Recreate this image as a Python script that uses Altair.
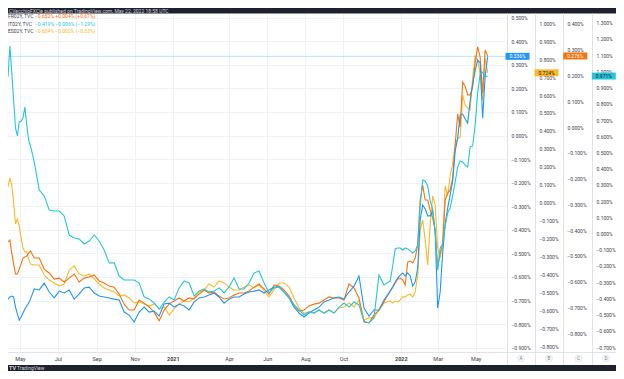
import altair as alt
import pandas as pd

# ---------------- data ----------------
DATES = (list(pd.date_range("2020-04-12", periods=13, freq="3D"))
         + list(pd.date_range("2020-05-24", periods=71, freq="8D"))
         + list(pd.date_range("2021-12-15", periods=40, freq="4D")))

# blue, scale A
DE02Y = [-0.694, -0.685, -0.681, -0.685, -0.728, -0.757, -0.783, -0.770, -0.753, -0.736, -0.723, -0.711, -0.694,
         -0.651, -0.655, -0.626, -0.664, -0.689, -0.660, -0.668, -0.655, -0.694, -0.672, -0.647, -0.643, -0.668,
         -0.681, -0.685, -0.689, -0.694, -0.698, -0.749, -0.762, -0.791, -0.749, -0.728, -0.749, -0.745, -0.766,
         -0.715, -0.711, -0.728, -0.715, -0.723, -0.740, -0.706, -0.689, -0.685, -0.677, -0.668, -0.685, -0.711,
         -0.694, -0.685, -0.685, -0.672, -0.664, -0.660, -0.655, -0.668, -0.655, -0.643, -0.643, -0.664, -0.689,
         -0.728, -0.753, -0.770, -0.753, -0.740, -0.728, -0.706, -0.698, -0.689, -0.685, -0.694, -0.664, -0.639,
         -0.596, -0.732, -0.766, -0.740, -0.740, -0.698,
         -0.660, -0.643, -0.621, -0.605, -0.592, -0.583, -0.596, -0.583, -0.596, -0.639, -0.621, -0.562, -0.358,
         -0.295, -0.312, -0.341, -0.341, -0.320, -0.409, -0.732, -0.664, -0.498, -0.375, -0.308, -0.252, -0.193,
         -0.066, -0.011, 0.087, 0.091, 0.070, 0.053, 0.147, 0.219, 0.274, 0.321, 0.308, 0.074, 0.250, 0.336]

# yellow, scale B
ES02Y = [0.087, 0.137, 0.098, 0.003, -0.119, -0.091, -0.130, -0.197, -0.253, -0.275, -0.275, -0.314, -0.342,
         -0.348, -0.348, -0.404, -0.432, -0.448, -0.465, -0.454, -0.376, -0.353, -0.398, -0.409, -0.398, -0.426,
         -0.454, -0.476, -0.487, -0.498, -0.521, -0.515, -0.532, -0.560, -0.554, -0.565, -0.577, -0.565, -0.593,
         -0.582, -0.627, -0.593, -0.565, -0.549, -0.554, -0.532, -0.498, -0.487, -0.454, -0.471, -0.437, -0.448,
         -0.471, -0.487, -0.487, -0.471, -0.459, -0.476, -0.459, -0.493, -0.526, -0.487, -0.448, -0.448, -0.471,
         -0.532, -0.588, -0.616, -0.610, -0.616, -0.599, -0.616, -0.599, -0.616, -0.588, -0.582, -0.560, -0.582,
         -0.543, -0.655, -0.643, -0.643, -0.599, -0.560,
         -0.549, -0.560, -0.549, -0.554, -0.543, -0.526, -0.526, -0.515, -0.510, -0.526, -0.498, -0.409, -0.153,
         -0.097, -0.208, -0.348, -0.125, 0.037, -0.013, -0.253, -0.309, -0.225, 0.093, 0.037, 0.154, 0.215,
         0.321, 0.355, 0.366, 0.600, 0.544, 0.528, 0.517, 0.695, 0.818, 0.795, 0.712, 0.572, 0.806, 0.724]

# orange, scale C
FR02Y = [-0.446, -0.438, -0.489, -0.531, -0.570, -0.570, -0.551, -0.531, -0.508, -0.504, -0.500, -0.489, -0.481,
         -0.508, -0.508, -0.551, -0.566, -0.590, -0.586, -0.601, -0.586, -0.570, -0.601, -0.586, -0.582, -0.574,
         -0.597, -0.605, -0.617, -0.621, -0.648, -0.687, -0.710, -0.710, -0.671, -0.683, -0.698, -0.718, -0.752,
         -0.710, -0.687, -0.675, -0.663, -0.675, -0.663, -0.667, -0.648, -0.632, -0.644, -0.640, -0.655, -0.667,
         -0.663, -0.652, -0.644, -0.644, -0.636, -0.621, -0.609, -0.628, -0.648, -0.613, -0.617, -0.632, -0.655,
         -0.690, -0.714, -0.710, -0.694, -0.687, -0.683, -0.671, -0.659, -0.663, -0.663, -0.671, -0.609, -0.624,
         -0.663, -0.756, -0.760, -0.729, -0.710, -0.679,
         -0.636, -0.621, -0.605, -0.590, -0.586, -0.593, -0.613, -0.524, -0.520, -0.527, -0.508, -0.458, -0.283,
         -0.225, -0.283, -0.283, -0.322, -0.353, -0.399, -0.547, -0.489, -0.454, -0.283, -0.256, -0.244, -0.198,
         -0.069, 0.051, 0.000, 0.175, 0.159, 0.125, 0.125, 0.155, 0.249, 0.311, 0.272, 0.132, 0.299, 0.276]

# cyan, scale D
IT02Y = [0.965, 1.156, 0.996, 0.823, 0.651, 0.602, 0.688, 0.694, 0.713, 0.780, 0.669, 0.577, 0.540,
         0.441, 0.269, 0.232, 0.145, 0.139, 0.139, 0.108, -0.009, -0.027, -0.034, -0.064, -0.046, -0.009,
         -0.046, -0.101, -0.181, -0.181, -0.262, -0.286, -0.286, -0.286, -0.305, -0.391, -0.403, -0.428, -0.465,
         -0.422, -0.391, -0.409, -0.335, -0.292, -0.305, -0.385, -0.354, -0.342, -0.360, -0.354, -0.335, -0.366,
         -0.329, -0.274, -0.342, -0.342, -0.305, -0.243, -0.231, -0.305, -0.366, -0.335, -0.329, -0.360, -0.397,
         -0.440, -0.471, -0.502, -0.483, -0.490, -0.471, -0.490, -0.471, -0.490, -0.453, -0.428, -0.453, -0.422,
         -0.440, -0.539, -0.551, -0.520, -0.255, -0.317,
         -0.292, -0.200, -0.095, -0.089, -0.089, -0.101, -0.089, -0.095, -0.107, -0.120, -0.107, -0.070, 0.176,
         0.330, 0.324, 0.293, 0.201, 0.151, 0.010, -0.225, -0.089, -0.064, 0.047, 0.127, 0.158, 0.232,
         0.318, 0.410, 0.447, 0.441, 0.423, 0.410, 0.534, 0.540, 0.669, 0.867, 0.984, 0.996, 0.965, 0.971]

A_TICKS = [-0.9, -0.8, -0.7, -0.6, -0.5, -0.4, -0.3, -0.2, -0.1, 0.0, 0.1, 0.2, 0.3, 0.4, 0.5]
B_TICKS = [-0.8, -0.7, -0.6, -0.5, -0.4, -0.3, -0.2, -0.1, 0.0, 0.1, 0.2, 0.3, 0.4, 0.5, 0.6, 0.7, 0.8, 0.9, 1.0]
C_TICKS = [-0.8, -0.7, -0.6, -0.5, -0.4, -0.3, -0.2, -0.1, 0.0, 0.1, 0.2, 0.3, 0.4]
D_TICKS = [-0.7, -0.6, -0.5, -0.4, -0.3, -0.2, -0.1, 0.0, 0.1, 0.2, 0.3, 0.4, 0.5, 0.6, 0.7, 0.8, 0.9, 1.0,
           1.1, 1.2, 1.3]
X_TICKS = [(2020, 5), (2020, 7), (2020, 9), (2020, 11), (2021, 1), (2021, 4), (2021, 6), (2021, 8),
           (2021, 10), (2022, 1), (2022, 3), (2022, 5)]

TITLE = "CVecchioFXCle published on TradingView.com, May 22, 2022 18:58 UTC"
LEGEND_NAMES = ["FR02Y, TVC", "IT02Y, TVC", "ES02Y, TVC"]
LEGEND_VALUES = ["\u22120.652%  +0.004% (+0.67%)", "\u22120.419%  \u22120.006% (\u22121.29%)",
                 "\u22120.604%  \u22120.002% (\u22120.33%)"]
PANE_LETTERS = ["A", "B", "C", "D"]

# ---------------- styling ----------------
BLUE, YELLOW, ORANGE, CYAN = "#2196f3", "#fbb829", "#f7730c", "#26c6da"
DARK = "#1e222d"
AX = "#3f424c"
GRID = "#eef1f6"
SEP = "#e0e3eb"
FONT = "Roboto"
W, H = 499, 341
TAG = "M-1,-0.29L1,-0.29L1,0.29L-1,0.29Z"

df = pd.DataFrame({"date": DATES, "DE02Y": DE02Y, "ES02Y": ES02Y, "FR02Y": FR02Y, "IT02Y": IT02Y})
one = pd.DataFrame({"k": [0]})

x_enc = alt.X(
    "date:T",
    title=None,
    scale=alt.Scale(domain=[alt.DateTime(year=2020, month=4, date=12),
                            alt.DateTime(year=2022, month=6, date=20)]),
    axis=alt.Axis(
        values=[alt.DateTime(year=y, month=m, date=1) for y, m in X_TICKS],
        labelExpr="month(datum.value) == 0 ? timeFormat(datum.value, '%Y') : timeFormat(datum.value, '%b')",
        labelFontWeight={"condition": {"test": "month(datum.value) == 0", "value": "bold"}, "value": "normal"},
        ticks=False, tickSize=0, domain=False, labelPadding=6, labelBaseline="middle",
        labelFontSize=5.5, labelColor=AX, labelFont=FONT, labelFlush=False, labelOverlap=False,
        grid=True, gridColor=GRID, gridWidth=1,
    ),
)


def series(col, values, color, domain, ticks, offset, grid, tag_x, tag_text, price_line=False):
    y_enc = alt.Y(
        f"{col}:Q", title=None,
        scale=alt.Scale(domain=domain, nice=False, zero=False),
        axis=alt.Axis(orient="right", offset=offset, values=ticks,
                      labelExpr="format(datum.value, '.3f') + '%'",
                      ticks=False, tickSize=0, domain=False, labelPadding=4, labelAlign="left",
                      labelBaseline="middle", labelFontSize=5, labelColor=AX, labelFont=FONT,
                      labelOverlap=False, labelBound=False,
                      grid=grid, gridColor=GRID, gridWidth=1),
    )
    last = pd.DataFrame({col: [values[-1]]})
    layers = []
    if price_line:
        layers.append(alt.Chart(last).mark_rule(color=color, strokeWidth=1, opacity=0.3).encode(y=y_enc))
    layers.append(alt.Chart(df).mark_line(color=color, strokeWidth=1.1).encode(x=x_enc, y=y_enc))
    layers.append(alt.Chart(last).mark_point(shape=TAG, size=576, filled=True, color=color,
                                             opacity=1, strokeWidth=0)
                  .encode(x=alt.value(tag_x), y=y_enc))
    layers.append(alt.Chart(last)
                  .transform_calculate(label=f"format(datum['{col}'], '.3f') + '%'")
                  .mark_text(fontSize=5, font=FONT, color=tag_text, align="center", baseline="middle")
                  .encode(x=alt.value(tag_x), y=y_enc, text="label:N"))
    return alt.layer(*layers)


s_yellow = series("ES02Y", ES02Y, YELLOW, [-0.8332, 1.0686], B_TICKS, 28, False, 538.5, "#131722")
s_orange = series("FR02Y", FR02Y, ORANGE, [-0.8727, 0.4504], C_TICKS, 56, False, 567.3, "white")
s_blue = series("DE02Y", DE02Y, BLUE, [-0.9184, 0.5284], A_TICKS, 0, True, 509.5, "white", price_line=True)
s_cyan = series("IT02Y", IT02Y, CYAN, [-0.7302, 1.3721], D_TICKS, 85, False, 595.8, "#131722")

# ---------------- frame decorations ----------------
base = alt.Chart(one)
deco = [
    base.mark_rect(color=DARK).encode(x=alt.value(-10), x2=alt.value(620), y=alt.value(-4), y2=alt.value(2.5)),
    base.mark_rect(color=DARK).encode(x=alt.value(-10), x2=alt.value(620), y=alt.value(354), y2=alt.value(365)),
    base.mark_rule(color=SEP, strokeWidth=1).encode(x=alt.value(-10), x2=alt.value(620), y=alt.value(341.5)),
]
for sx in [499.5, 527.5, 555.5, 584.5]:
    deco.append(base.mark_rule(color=SEP, strokeWidth=1)
                .encode(x=alt.value(sx), y=alt.value(2.5), y2=alt.value(354)))

texts = [
    base.mark_text(text=TITLE, fontSize=5, font=FONT, color="#d1d4dc", align="left", baseline="middle")
    .encode(x=alt.value(1), y=alt.value(-0.5)),
    base.mark_text(text="TV", fontSize=5.5, font=FONT, fontWeight="bold", color="#d1d4dc",
                   align="left", baseline="middle").encode(x=alt.value(1), y=alt.value(357.3)),
    base.mark_text(text="TradingView", fontSize=5, font=FONT, color="#d1d4dc",
                   align="left", baseline="middle").encode(x=alt.value(9), y=alt.value(357.3)),
]
for i, (nm, val, col) in enumerate(zip(LEGEND_NAMES, LEGEND_VALUES, [ORANGE, CYAN, YELLOW])):
    yy = 5 + 7.5 * i
    texts.append(base.mark_text(text=nm, fontSize=5, font=FONT, color=AX, align="left", baseline="middle")
                 .encode(x=alt.value(0), y=alt.value(yy)))
    texts.append(base.mark_text(text=val, fontSize=5, font=FONT, color=col, align="left", baseline="middle")
                 .encode(x=alt.value(27), y=alt.value(yy)))
for lx, letter in zip([513, 541, 570.5, 598], PANE_LETTERS):
    texts.append(base.mark_point(shape="circle", size=50, filled=True, fill="#f7f8fb", stroke=SEP,
                                 strokeWidth=0.8, opacity=1)
                 .encode(x=alt.value(lx), y=alt.value(347.5)))
    texts.append(base.mark_text(text=letter, fontSize=4.5, font=FONT, color="#787b86",
                                align="center", baseline="middle")
                 .encode(x=alt.value(lx), y=alt.value(347.7)))

chart = (
    alt.layer(*deco, s_yellow, s_orange, s_blue, s_cyan, *texts)
    .resolve_scale(y="independent")
    .properties(width=W, height=H,
                padding={"left": 0, "top": 3, "right": 109, "bottom": 19},
                autosize=alt.AutoSizeParams(type="none"),
                background="white")
    .configure_view(stroke=None)
)

chart.save("out.html", embed_options={"renderer": "svg", "actions": False})
